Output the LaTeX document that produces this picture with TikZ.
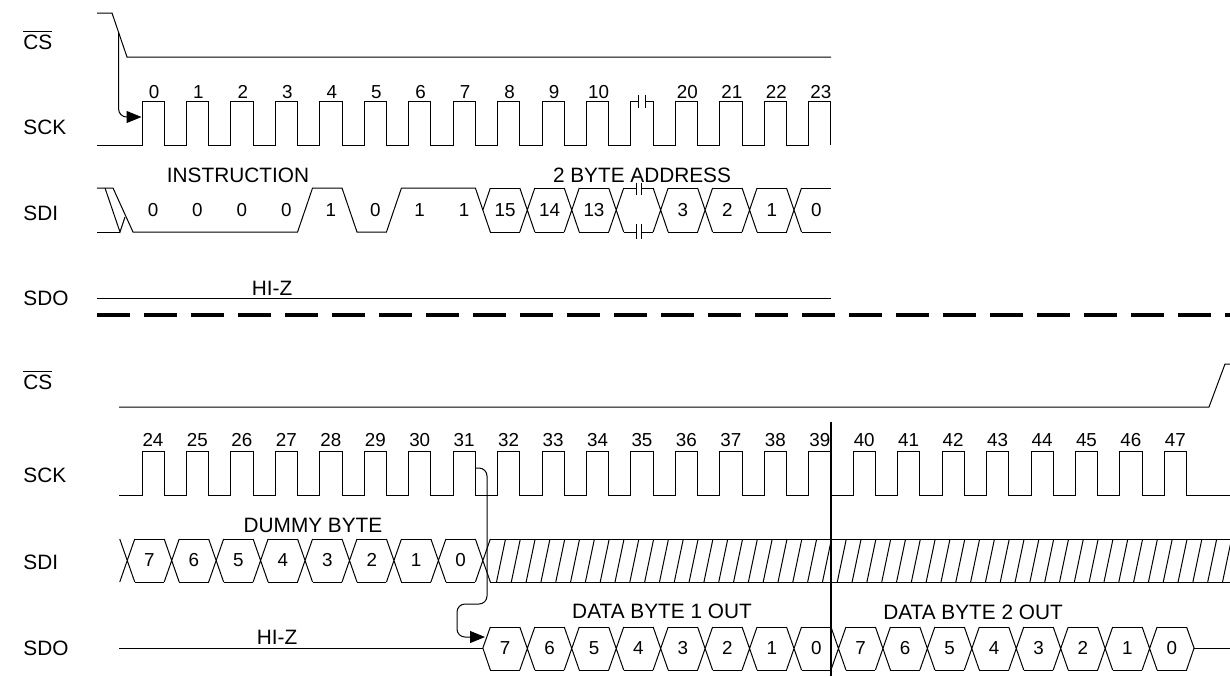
\documentclass[tikz,border=0pt]{standalone}
\usepackage{fontspec}
\setmainfont{Liberation Sans}
\usetikzlibrary{arrows.meta}

\newcommand{\lblfont}{\fontsize{10.4}{12}\selectfont}
\newcommand{\numfont}{\fontsize{9.4}{11}\selectfont}

\begin{document}
\begin{tikzpicture}[
    x=0.5pt, y=-0.5pt,
    % Styles
    wave/.style={line width=0.5pt},
    sig_name/.style={anchor=base west, inner sep=0pt, font=\lblfont},
    phase/.style={inner sep=0pt, font=\lblfont},
    cnt_lbl/.style={inner sep=0pt, font=\numfont},
    bit_lbl/.style={inner sep=0pt, font=\numfont},
    split_line/.style={line width=2.2pt, dash pattern=on 16.5pt off 7pt},
    cut_line/.style={line width=1pt},
    arrow/.style={-{Triangle[length=7.5pt, width=6pt]}, line width=0.5pt, rounded corners=4pt}
]
    \useasboundingbox (0,0) rectangle (1230,676);
    \def\per{44.45}
    \def\rise{142}
    \def\fall{164.2}

    % 1. SIGNAL NAMES
    \node[sig_name] (cs_a)  at (23,49)    {$\overline{\mbox{CS}}$};
    \node[sig_name] (sck_a) at (23,134.5) {SCK};
    \node[sig_name] (sdi_a) at (23,220.5) {SDI};
    \node[sig_name] (sdo_a) at (23,305.5) {SDO};
    \node[sig_name] (cs_b)  at (23,389)   {$\overline{\mbox{CS}}$};
    \node[sig_name] (sck_b) at (23,482.5) {SCK};
    \node[sig_name] (sdi_b) at (23,569.5) {SDI};
    \node[sig_name] (sdo_b) at (23,655.5) {SDO};

    % 2. FIRST HALF - CS and SCK
    \draw[wave] (97,13) -- (112,13) -- (127,57) -- (831,57);
    \draw[wave] (97,145) foreach \k in {0,...,15} {
        -- ({\rise+\k*\per},145) -- ++(0,-44) -- ++(22.2,0) -- ++(0,44) };
    \foreach \k/\n in {0/0,1/1,2/2,3/3,4/4,5/5,6/6,7/7,8/8,9/9,10/10,12/20,13/21,14/22,15/23}
        \node[cnt_lbl] (cnt_a\k) at ({\rise+\k*\per+12},92) {\n};
    % break in the clock
    \fill[white] (638.8,97) rectangle (644.5,105);
    \draw[wave] (638.3,95) -- (638.3,108) (645,95) -- (645,108);

    % 3. FIRST HALF - SDI instruction bits
    \draw[wave] (97,188) -- (113,188) -- (133,232) -- ({\fall+3*\per},232) -- ++(15,-44)
        -- ({\fall+4*\per},188) -- ++(15,44) -- ({\fall+5*\per},232) -- ++(15,-44)
        -- ({\fall+7*\per},188) -- ++(15,44);
    \draw[wave] (105,188) -- (120,232) -- (125,217);
    \draw[wave] (97,232) -- (120,232);
    \draw[wave] ({\fall+7*\per+7.5},210) -- ++(7.5,-22);
    \foreach \k/\b in {0/0,1/0,2/0,3/0,4/1,5/0,6/1,7/1}
        \node[bit_lbl] (ins\k) at ({\rise+\k*\per+11},210) {\b};

    % address bytes
    \foreach \k in {8,...,14} {
        \pgfmathsetmacro{\xa}{\fall+\k*\per}
        \draw[wave] (\xa,188) -- ++(15,44) (\xa,232) -- ++(15,-44);
    }
    \foreach \k/\b in {8/15,9/14,10/13,11/,12/3,13/2,14/1,15/0} {
        \pgfmathsetmacro{\xa}{\fall+(\k-1)*\per+15}
        \pgfmathsetmacro{\xb}{min(\fall+\k*\per,831)}
        \draw[wave] (\xa,188) -- (\xb,188) (\xa,232) -- (\xb,232);
        \node[bit_lbl] (adr\k) at ({(\xa+\xb)/2},210) {\b};
    }
    \fill[white] (636.6,185) rectangle (641.3,191);
    \fill[white] (636.6,229) rectangle (641.3,235);
    \draw[wave] (636,183) -- (636,195) (641.8,183) -- (641.8,195);
    \draw[wave] (636,224) -- (636,239) (641.8,224) -- (641.8,239);

    % 4. FIRST HALF - SDO
    \draw[wave] (97,298) -- (831,298);

    \node[phase] (instr) at (238,175) {INSTRUCTION};
    \node[phase] (addr) at (642,175) {2 BYTE ADDRESS};
    \node[phase] (hiz_a) at (272,288) {HI-Z};

    % CS to first clock
    \coordinate (cs_fall) at (118.6,33);
    \coordinate (sck_first) at (141.5,117);
    \draw[arrow] (cs_fall) |- (sck_first);

    % 5. SEPARATOR
    \draw[split_line] (97,315) -- (1230,315);

    % 6. SECOND HALF - CS and SCK
    \draw[wave] (119,407) -- (1209,407) -- (1225,364) -- (1230,364);
    \draw[wave] (119,495) foreach \k in {0,...,23} {
        -- ({\rise+\k*\per},495) -- ++(0,-43.3) -- ++(22.2,0) -- ++(0,43.3) } -- (1230,495);
    \foreach \k in {0,...,23} {
        \pgfmathtruncatemacro{\n}{24+\k}
        \node[cnt_lbl] (cnt_b\k) at ({\rise+\k*\per+11},440) {\n};
    }

    % 7. SECOND HALF - SDI dummy byte, then don't care
    \foreach \k in {-1,...,7} {
        \pgfmathsetmacro{\xa}{\fall+\k*\per}
        \draw[wave] (\xa,539) -- ++(15,43) (\xa,582) -- ++(15,-43);
    }
    \foreach \k/\b in {0/7,1/6,2/5,3/4,4/3,5/2,6/1,7/0} {
        \pgfmathsetmacro{\xa}{\fall+(\k-1)*\per+15}
        \pgfmathsetmacro{\xb}{\fall+\k*\per}
        \draw[wave] (\xa,539) -- (\xb,539) (\xa,582) -- (\xb,582);
        \node[bit_lbl] (dum\k) at ({(\xa+\xb)/2},560) {\b};
    }
    \pgfmathsetmacro{\hs}{\fall+7*\per+15}
    \draw[wave] (\hs,539) -- (1230,539) (\hs,582) -- (1230,582);
    \begin{scope}
        \clip (\hs,539) rectangle (1230,582);
        \foreach \i in {0,...,50}
            \draw[wave] ({496.5+\i*\per/3},582) -- ++(9,-43);
    \end{scope}

    % 8. SECOND HALF - SDO data out
    \pgfmathsetmacro{\zs}{\fall+7*\per+7.5}
    \draw[wave] (119,648) -- (\zs,648);
    \draw[wave] ({\zs+7.5},627) -- (\zs,648) -- ({\zs+7.5},670);
    \foreach \k in {8,...,22} {
        \pgfmathsetmacro{\xa}{\fall+\k*\per}
        \draw[wave] (\xa,627) -- ++(15,43) (\xa,670) -- ++(15,-43);
    }
    \foreach \k/\b in {8/7,9/6,10/5,11/4,12/3,13/2,14/1,15/0,16/7,17/6,18/5,19/4,20/3,21/2,22/1,23/0} {
        \pgfmathsetmacro{\xa}{\fall+(\k-1)*\per+15}
        \pgfmathsetmacro{\xb}{\fall+\k*\per}
        \draw[wave] (\xa,627) -- (\xb,627) (\xa,670) -- (\xb,670);
        \node[bit_lbl] (dat\k) at ({(\xa+\xb)/2},648) {\b};
    }
    \pgfmathsetmacro{\ze}{\fall+23*\per}
    \draw[wave] (\ze,627) -- ({\ze+7.5},648) -- (\ze,670);
    \draw[wave] ({\ze+7.5},648) -- (1230,648);

    \node[phase] (dummy) at (313,525) {DUMMY BYTE};
    \node[phase] (out_1) at (662,611) {DATA BYTE 1 OUT};
    \node[phase] (out_2) at (973,612) {DATA BYTE 2 OUT};
    \node[phase] (hiz_b) at (277,637) {HI-Z};

    % byte boundary
    \draw[cut_line] (831,421.7) -- (831,676);

    % last dummy clock to first data bit
    \coordinate (sck_31) at (475.4,468);
    \coordinate (sdo_start) at (485,637);
    \draw[arrow] (sck_31) -| (487,604) -| (457,637) -- (sdo_start);

\end{tikzpicture}
\end{document}
